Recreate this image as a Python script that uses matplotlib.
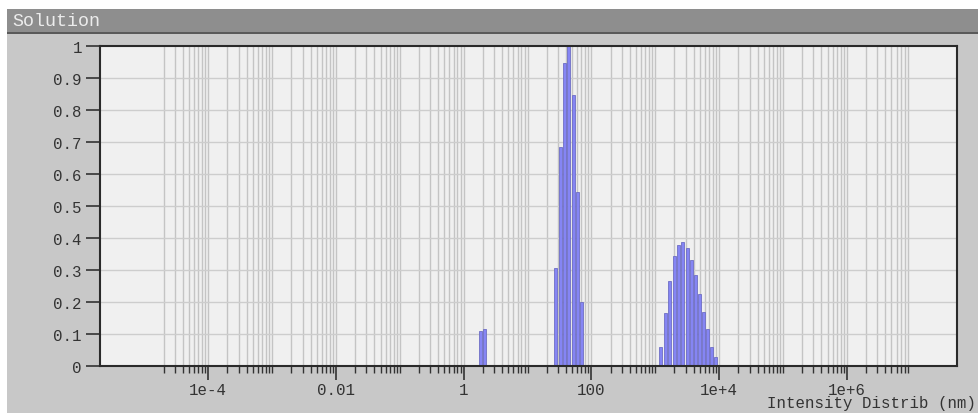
import numpy as np
import matplotlib
matplotlib.use("Agg")
import matplotlib.pyplot as plt
from matplotlib.patches import Rectangle
from matplotlib.ticker import FixedLocator, NullFormatter

# =========================================================
# DATA
# =========================================================

# peak 1
size_a = [1.85, 2.15]
inten_a = [0.110, 0.116]

# peak 2
size_b = [27.7, 32.4, 37.9, 44.2, 51.7, 60.4, 70.5]
inten_b = [0.305, 0.685, 0.946, 1.0, 0.847, 0.543, 0.199]

# peak 3
size_c = [1230, 1439, 1683, 1968, 2301, 2698, 3148, 3681, 4305, 4977,
          5754, 6637, 7674, 8872]
inten_c = [0.058, 0.165, 0.267, 0.343, 0.378, 0.387, 0.368, 0.332, 0.284,
           0.225, 0.168, 0.116, 0.060, 0.027]

major_ticks = [1e-4, 1e-2, 1, 1e2, 1e4, 1e6]
major_labels = ["1e-4", "0.01", "1", "100", "1e+4", "1e+6"]
y_ticks = [0, 0.1, 0.2, 0.3, 0.4, 0.5, 0.6, 0.7, 0.8, 0.9, 1]
y_labels = ["0", "0.1", "0.2", "0.3", "0.4", "0.5", "0.6", "0.7", "0.8", "0.9", "1"]

# =========================================================
# STYLE
# =========================================================

W, H = 979, 414
BG = "#c8c8c8"
BAR_FACE = "#8585f4"
BAR_EDGE = "#6e6ec4"
MONO = "Liberation Mono"

fig = plt.figure(figsize=(W / 100, H / 100), dpi=100)
fig.patch.set_facecolor("white")

# gray panel + title bar
fig.patches.append(Rectangle((7 / W, 0), 1, 1 - 10 / H, transform=fig.transFigure,
                             facecolor=BG, edgecolor="none", zorder=-10))
fig.patches.append(Rectangle((7 / W, 1 - 33 / H), 1, 23 / H, transform=fig.transFigure,
                             facecolor="#8e8e8e", edgecolor="none", zorder=-9))
fig.patches.append(Rectangle((7 / W, 1 - 35 / H), 1, 2 / H, transform=fig.transFigure,
                             facecolor="#5a5a5a", edgecolor="none", zorder=-8))
fig.text(12 / W, 1 - 22 / H, "Solution", family=MONO, fontsize=13.2,
         color="#ececec", va="center", ha="left")

ax = fig.add_axes([100 / W, 47 / H, 857 / W, 320 / H])
ax.set_facecolor("#f0f0f0")
ax.set_xscale("log")
ax.set_xlim(10 ** -5.694, 10 ** 7.725)
ax.set_ylim(0, 1)

# tick positions: 2e-5 .. 9e6
all_ticks = [k * 10.0 ** n for n in range(-5, 7) for k in range(1, 10)]
all_ticks = [t for t in all_ticks if t > 1.5e-5]
minor_ticks = [t for t in all_ticks if not any(np.isclose(t, m) for m in major_ticks)]

ax.xaxis.set_major_locator(FixedLocator(major_ticks))
ax.set_xticklabels(major_labels)
ax.xaxis.set_minor_locator(FixedLocator(minor_ticks))
ax.xaxis.set_minor_formatter(NullFormatter())

ax.set_yticks(y_ticks)
ax.set_yticklabels(y_labels)
ax.yaxis.set_minor_locator(FixedLocator([]))

for t in all_ticks:
    ax.axvline(t, color="#c4c4c4", lw=1.0, zorder=0.5)
for t in y_ticks[1:-1]:
    ax.axhline(t, color="#cdcdcd", lw=1.0, zorder=0.5)

ax.tick_params(axis="both", which="major", direction="out", length=10, width=1.2,
               color="#333333", labelsize=11.3, labelcolor="#333333", pad=3)
ax.tick_params(axis="x", which="minor", direction="out", length=5, width=1.0,
               color="#333333")
ax.tick_params(axis="x", which="major", pad=1.5)
for lbl in ax.get_xticklabels() + ax.get_yticklabels():
    lbl.set_family(MONO)

for s in ax.spines.values():
    s.set_color("#2a2a2a")
    s.set_linewidth(1.5)

# bars: width set in log space around each centre
bw = 0.047  # decades
for sizes, vals in [(size_a, inten_a), (size_b, inten_b), (size_c, inten_c)]:
    x = np.array(sizes)
    left = x * 10 ** (-bw / 2)
    width = x * 10 ** (bw / 2) - left
    ax.bar(left, vals, width=width, align="edge", color=BAR_FACE,
           edgecolor=BAR_EDGE, linewidth=0.6, zorder=2)

fig.text(767 / W, 1 - 404 / H, "Intensity Distrib (nm)", family=MONO,
         fontsize=11.3, color="#333333", va="center", ha="left")

fig.savefig("out.png", dpi=100, facecolor=fig.get_facecolor())
